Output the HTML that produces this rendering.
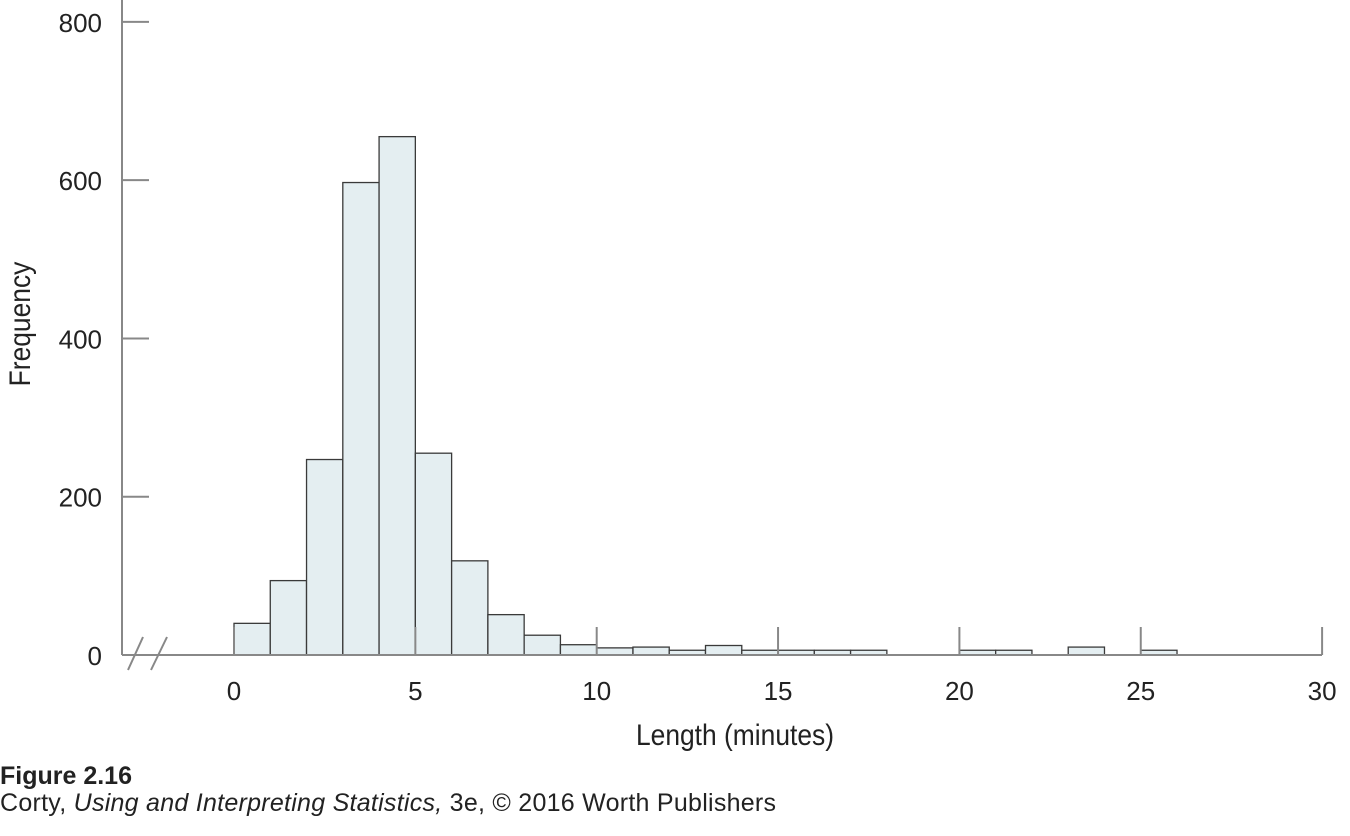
<!DOCTYPE html>
<html><head><meta charset="utf-8"><style>
body{margin:0;background:#fff;width:1350px;height:831px;overflow:hidden;font-family:"Liberation Sans",sans-serif}
</style></head><body>
<svg id="chart" width="1350" height="831">
<g id="bars"></g>
<g id="axes"></g>
<text x="735" y="745" font-size="30" text-anchor="middle" transform="scale(0.88,1)" style="transform-origin:735px 745px" fill="#222">Length (minutes)</text>
<text x="0" y="0" font-size="30" text-anchor="middle" fill="#222" transform="translate(30,324) rotate(-90) scale(0.88,1)">Frequency</text>
<text x="0" y="784" font-size="25" font-weight="bold" fill="#222">Figure 2.16</text>
<text x="0" y="811" font-size="25" fill="#222" textLength="776">Corty, <tspan font-style="italic">Using and Interpreting Statistics,</tspan> 3e, © 2016 Worth Publishers</text>
</svg>
<script>
const binStarts=[0,1,2,3,4,5,6,7,8,9,10,11,12,13,14,15,16,17,18,19,20,21,22,23,24,25];
const counts=[40,94,247,597,655,255,119,51,25,13,9,10,6,12,6,6,6,6,0,0,6,6,0,10,0,6];
const xTicks=[0,5,10,15,20,25,30];
const yTicks=[0,200,400,600,800];
const NS="http://www.w3.org/2000/svg";
const xs=v=>234+v*36.27;
const ys=v=>655-v*0.7914;
const bars=document.getElementById('bars'),axes=document.getElementById('axes');
function mk(tag,attrs,parent){const e=document.createElementNS(NS,tag);for(const k in attrs)e.setAttribute(k,attrs[k]);parent.appendChild(e);return e;}
binStarts.forEach((b,i)=>{if(!counts[i])return;
const r=mk('rect',{x:xs(b),y:ys(counts[i]),width:xs(b+1)-xs(b),height:ys(0)-ys(counts[i]),fill:'#e4eef1',stroke:'#3a3a3a','stroke-width':1.3},bars);

});
mk('line',{x1:122,y1:0,x2:122,y2:655,stroke:'#888','stroke-width':2},axes);
mk('line',{x1:122,y1:655,x2:1322,y2:655,stroke:'#888','stroke-width':2},axes);
mk('line',{x1:128,y1:670,x2:143,y2:637,stroke:'#888','stroke-width':2},axes);
mk('line',{x1:151,y1:670,x2:167,y2:637,stroke:'#888','stroke-width':2},axes);
xTicks.forEach(t=>{mk('line',{x1:xs(t),y1:627,x2:xs(t),y2:655,stroke:'#888','stroke-width':2},axes);
const tx=mk('text',{x:xs(t),y:700,'font-size':26,'text-anchor':'middle',fill:'#222'},axes);tx.textContent=t;

});
yTicks.forEach(t=>{mk('line',{x1:122,y1:ys(t),x2:149,y2:ys(t),stroke:'#888','stroke-width':2},axes);
const tx=mk('text',{x:102,y:ys(t)+10,'font-size':26,'text-anchor':'end',fill:'#222'},axes);tx.textContent=t;

});
</script>
</body></html>
